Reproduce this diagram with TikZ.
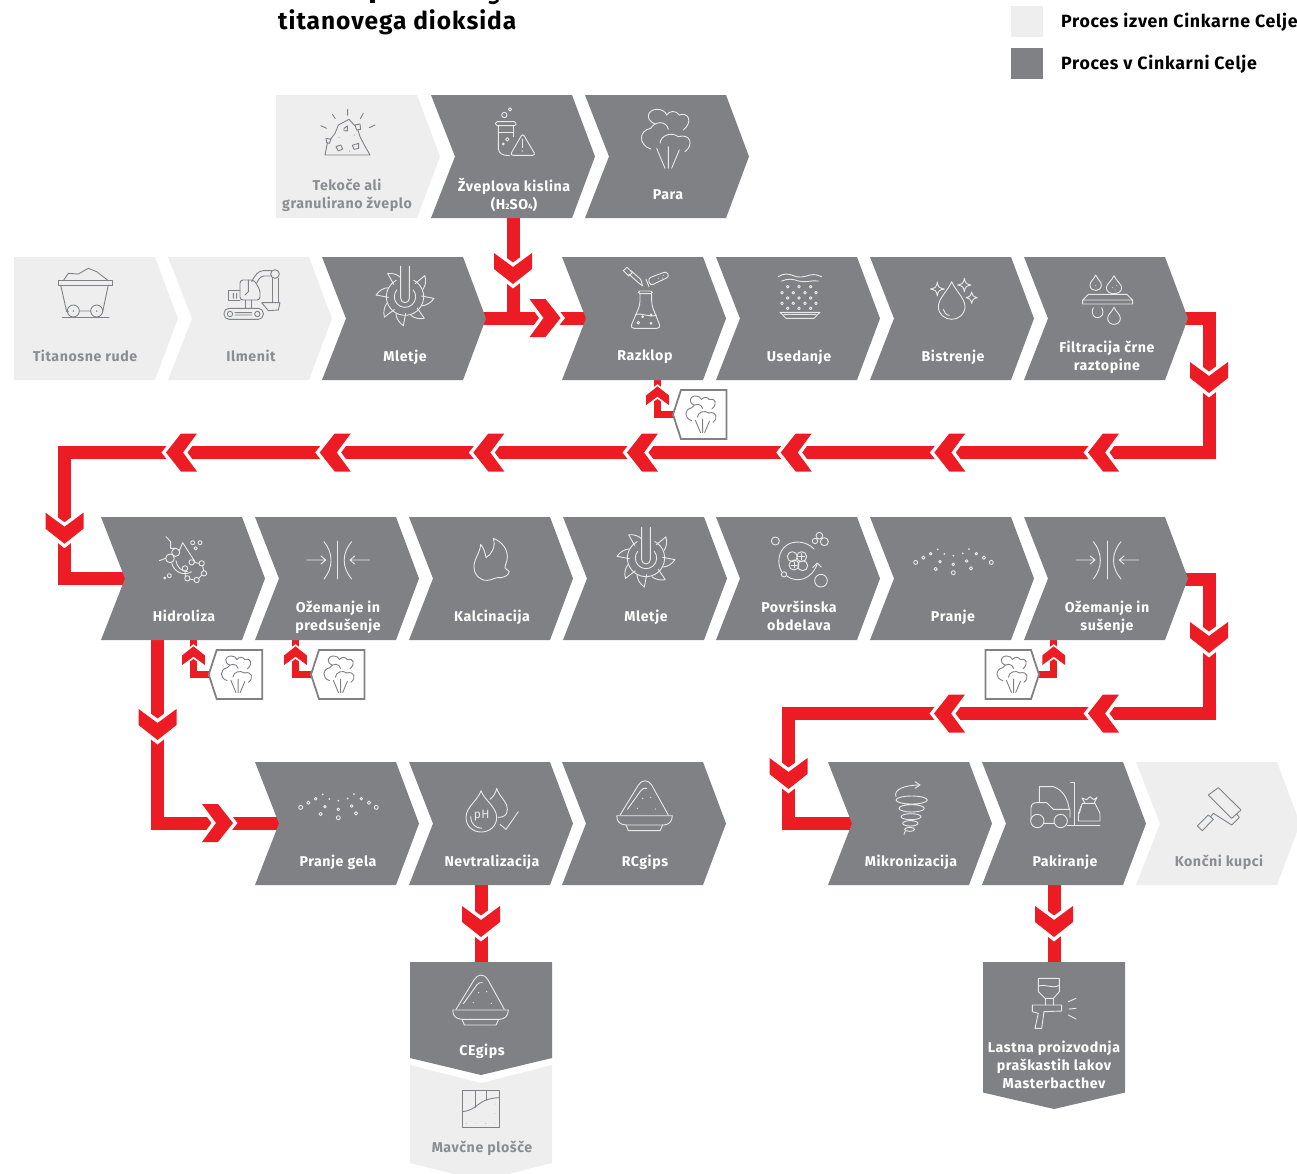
\documentclass[tikz,border=0pt]{standalone}
\usepackage{fontspec}
\setmainfont{Fira Sans}[LetterSpace=4]
\definecolor{gdark}{HTML}{808184}
\definecolor{glight}{HTML}{EEEEEF}
\definecolor{gtext}{HTML}{8C8D90}
\definecolor{gicon}{HTML}{808184}
\definecolor{wicon}{HTML}{E9E9EA}
\definecolor{rflow}{HTML}{ED1C24}
\newcommand\st{\rule[-3pt]{0pt}{14pt}}
\tikzset{
  cdark/.style={fill=gdark},
  clight/.style={fill=glight},
  cdarklabel/.style={text=white,font=\fontsize{14.2}{18}\selectfont\bfseries,align=center,inner sep=0pt},
  clightlabel/.style={text=gtext,font=\fontsize{14.2}{18}\selectfont\bfseries,align=center,inner sep=0pt},
  legendlabel/.style={text=black,font=\fontsize{17.75}{20}\selectfont\bfseries,anchor=west,inner sep=0pt},
  titlelabel/.style={text=black,font=\fontsize{24.5}{30}\selectfont\bfseries,anchor=west,inner sep=0pt},
  flow/.style={draw=rflow,line width=13pt,miter limit=10},
  flowsmall/.style={draw=rflow,line width=7pt,miter limit=10},
  zoomframe/.style n args={2}{shift={(#1,#2)},scale=.33333},
  iconw/.style={color=wicon,line width=.9pt,line join=round,line cap=round},
  icong/.style={color=gicon,line width=.9pt,line join=round,line cap=round},
  boxline/.style={draw=gicon,line width=1.8pt,fill=white},
  % chevron arrowheads pointing right from their base point
  chevarrow/.pic={
    \filldraw[draw=white,line width=7pt,fill=rflow,miter limit=10] (0,-19)--(16,-19)--(31,0)--(16,19)--(0,19)--(14,0)--cycle;
    \fill[rflow] (0,-19)--(16,-19)--(31,0)--(16,19)--(0,19)--(14,0)--cycle;
  },
  chevarrowsmall/.pic={
    \filldraw[draw=white,line width=3.5pt,fill=rflow,miter limit=10] (0,-19)--(16,-19)--(31,0)--(16,19)--(0,19)--(14,0)--cycle;
    \fill[rflow] (0,-19)--(16,-19)--(31,0)--(16,19)--(0,19)--(14,0)--cycle;
  },
  iconsteam/.pic={
    \begin{scope}[shift={(-1185,-415)}]
    \draw (1155,372) .. controls (1125,360) and (1130,328) .. (1162,328) .. controls (1175,328) and (1187,335) .. (1190,345);
    \draw (1190,345) .. controls (1198,332) and (1218,330) .. (1228,345);
    \draw (1228,345) .. controls (1255,335) and (1270,365) .. (1240,390);
    \draw (1195,388) .. controls (1190,362) and (1155,362) .. (1142,385);
    \draw (1142,385) .. controls (1105,392) and (1105,435) .. (1142,447);
    \draw (1170,430) .. controls (1172,405) and (1205,395) .. (1225,410);
    \draw (1225,410) .. controls (1262,400) and (1272,435) .. (1245,455);
    \draw (1160,445)--(1185,505) (1195,440)--(1195,505) (1228,450)--(1205,505);
    \end{scope}
  },
  iconmill/.pic={
    \draw (-13,-92)--(-13,5) arc (180:0:13) --(13,-92);
    \draw ([shift={(-40:32)}]0,0) arc (-40:220:32);
    \draw ([shift={(-62:56)}]0,0) arc (-62:242:56);
    \foreach \a in {0,50,130,180,228,270,315}{
      \draw[rotate=\a] (50,-2)--(87,5) .. controls (78,18) and (65,26) .. (52,27);
    }
  },
  iconwash/.pic={
    \begin{scope}[shift={(-175,-140)}]
    \draw (62,142) circle (6) (85,128) circle (5) (107,116) circle (4) (244,116) circle (4) (267,128) circle (5) (289,142) circle (6)
      (135,140) circle (4) (175,148) circle (4) (215,138) circle (4) (122,162) circle (5) (175,173) circle (6) (228,160) circle (5);
    \fill (128,103) circle (3) (148,117) circle (3) (175,122) circle (3) (203,115) circle (3) (222,102) circle (3);
    \end{scope}
  },
  iconpress/.pic={
    \begin{scope}[shift={(-1013,-390)}]
    \draw (1013,333)--(1013,447);
    \draw (972,335) .. controls (1000,370) and (1000,412) .. (972,447);
    \draw (1055,335) .. controls (1025,370) and (1025,412) .. (1055,447);
    \draw (920,390)--(975,390) (963,378)--(977,390)--(963,402);
    \draw (1108,390)--(1052,390) (1064,378)--(1050,390)--(1064,402);
    \end{scope}
  },
  icongypsum/.pic={
    \begin{scope}[shift={(-1094,-140)}]
    \draw (1020,165)--(1075,75) .. controls (1085,58) and (1105,58) .. (1115,75)--(1165,165);
    \draw (1042,148)--(1082,92) .. controls (1087,85) and (1093,83) .. (1100,85);
    \draw (1010,167)--(1177,167) .. controls (1177,185) and (1165,195) .. (1150,195)--(1040,195) .. controls (1020,195) and (1010,185) .. (1010,167);
    \draw (1038,195)--(1045,212)--(1140,212)--(1148,195);
    \fill (1088,115) circle (2) (1112,112) circle (2) (1072,145) circle (2) (1126,147) circle (2);
    \end{scope}
  },
}
\newcommand\chev[5]{\begin{scope}[shift={(#2,#3)}]
  \fill[#4] (0,0)--(141,0)--(164,61.5)--(141,123)--(0,123)--(24,61.5)--cycle;
  \node[#4label] (#1) at (83,100) {#5};
\end{scope}}
\newcommand\chevflat[5]{\begin{scope}[shift={(#2,#3)}]
  \fill[#4] (0,0)--(141,0)--(164,61.5)--(141,123)--(0,123)--cycle;
  \node[#4label] (#1) at (71,100) {#5};
\end{scope}}
\newcommand\stbox[3]{% tip x, tip y, direction (1 = tip left, -1 = tip right)
  \begin{scope}[shift={(#1,#2)},xscale=#3]
  \filldraw[boxline,miter limit=10] (0,0)--(8,-24.5)--(53.5,-24.5)--(53.5,24.5)--(8,24.5)--cycle;
  \end{scope}
}
\begin{document}
\begin{tikzpicture}[x=1pt,y=-1pt]
\useasboundingbox (0,0) rectangle (1297,1173);
\clip (0,0) rectangle (1297,1173);

% title
\fill[black] (370,0) rectangle (375,3);
\draw[black,line width=2.6pt] (489,2) .. controls (493,3.5) and (496,3) .. (498,0);
\node[titlelabel] (title) at (278,22.5) {titanovega dioksida};

% legend
\fill[glight] (1011,5.5) rectangle (1042.5,36.8);
\fill[gdark] (1011,48) rectangle (1042.5,79);
\node[legendlabel] (legA) at (1061,22.5) {Proces izven Cinkarne Celje};
\node[legendlabel] (legB) at (1061,64.5) {Proces v Cinkarni Celje};

% connector end points
\coordinate (zvB) at (513,215);
\coordinate (zvJ) at (513,318);
\coordinate (mlO) at (478,318);
\coordinate (raI) at (590,318);
\coordinate (fiO) at (1180,318.5);
\coordinate (c1) at (1209,318.5);
\coordinate (c2) at (1209,452.5);
\coordinate (c3) at (64.5,452.5);
\coordinate (c4) at (64.5,578.5);
\coordinate (hiI) at (130,578.5);
\coordinate (hiB) at (157.5,636);
\coordinate (c5) at (157.5,823);
\coordinate (prI) at (283,823);
\coordinate (suO) at (1180,579.5);
\coordinate (c6) at (1209,579.5);
\coordinate (c7) at (1209,713.5);
\coordinate (c8) at (788.5,713.5);
\coordinate (c9) at (788.5,823.5);
\coordinate (miI) at (856,823.5);
\coordinate (neB) at (481,881);
\coordinate (ceT) at (481,966);
\coordinate (paB) at (1054,881);
\coordinate (laT) at (1054,966);
\coordinate (sbA) at (212,674.5);
\coordinate (sbB) at (314,674.5);
\coordinate (sbC) at (676,414.5);
\coordinate (sbD) at (1036,674.5);
\coordinate (hiS) at (193.5,636);
\coordinate (hiT) at (193.5,674.5);
\coordinate (ozS) at (295.5,636);
\coordinate (ozT) at (295.5,674.5);
\coordinate (raS) at (657.5,376);
\coordinate (raT) at (657.5,414.5);
\coordinate (suS) at (1053.7,636);
\coordinate (suT) at (1053.7,674.5);

% flows (under the shapes)
\draw[flow] (zvB)--(zvJ);
\draw[flow] (mlO)--(raI);
\draw[flow] (fiO)--(c1)--(c2)--(c3)--(c4)--(hiI);
\draw[flow] (hiB)--(c5)--(prI);
\draw[flow] (suO)--(c6)--(c7)--(c8)--(c9)--(miI);
\draw[flow] (neB)--(ceT);
\draw[flow] (paB)--(laT);
\draw[flowsmall] (sbA)--(hiT)--(hiS);
\draw[flowsmall] (sbB)--(ozT)--(ozS);
\draw[flowsmall] (sbC)--(raT)--(raS);
\draw[flowsmall] (sbD)--(suT)--(suS);

% arrowheads
\pic[rotate=-90] at (513,253) {chevarrow};
\pic at (529.5,318) {chevarrow};
\pic[rotate=-90] at (1209,362) {chevarrow};
\foreach \x in {1119,965.3,811.7,658,504.3,350.7,197}{\pic[rotate=180] at (\x,452.5) {chevarrow};}
\pic[rotate=-90] at (64.5,512.7) {chevarrow};
\pic[rotate=-90] at (157.5,709) {chevarrow};
\pic at (202,823) {chevarrow};
\pic[rotate=-90] at (1209,622) {chevarrow};
\pic[rotate=180] at (1119,713.5) {chevarrow};
\pic[rotate=180] at (965,713.5) {chevarrow};
\pic[rotate=-90] at (788.5,758) {chevarrow};
\pic[rotate=-90] at (481,906) {chevarrow};
\pic[rotate=-90] at (1054,906) {chevarrow};
\foreach \x/\y in {193.5/665,295.5/665,657.5/405,1053.7/665}{\pic[rotate=90,scale=.6] at (\x,\y) {chevarrowsmall};}

% shapes row 1
\chevflat{tekoce}{276}{95}{clight}{\st Tekoče ali\\\st granulirano žveplo}
\chev{zveplova}{431}{95}{cdark}{\st Žveplova kislina\\\st (H{\fontsize{8}{8}\selectfont 2}SO{\fontsize{8}{8}\selectfont 4})}
\chev{para}{585}{95}{cdark}{\st Para}
% row 2
\chevflat{rude}{14}{257}{clight}{\st Titanosne rude}
\chev{ilmenit}{168}{257}{clight}{\st Ilmenit}
\chev{mletjeA}{322}{257}{cdark}{\st Mletje}
\chev{razklop}{562}{257}{cdark}{\st Razklop}
\chev{usedanje}{716}{257}{cdark}{\st Usedanje}
\chev{bistrenje}{870}{257}{cdark}{\st Bistrenje}
\chev{filtracija}{1024}{257}{cdark}{\st Filtracija črne\\\st raztopine}
% row 3
\chev{hidroliza}{101}{517}{cdark}{\st Hidroliza}
\chev{ozemanjeA}{255}{517}{cdark}{\st Ožemanje in\\\st predsušenje}
\chev{kalcinacija}{409}{517}{cdark}{\st Kalcinacija}
\chev{mletjeB}{563}{517}{cdark}{\st Mletje}
\chev{povrsinska}{716}{517}{cdark}{\st Površinska\\\st obdelava}
\chev{pranje}{870}{517}{cdark}{\st Pranje}
\chev{ozemanjeB}{1024}{517}{cdark}{\st Ožemanje in\\\st sušenje}
% row 4
\chev{pranjegela}{255}{762}{cdark}{\st Pranje gela}
\chev{nevtral}{409}{762}{cdark}{\st Nevtralizacija}
\chev{rcgips}{562}{762}{cdark}{\st RCgips}
\chev{mikro}{828}{762}{cdark}{\st Mikronizacija}
\chev{pakiranje}{982}{762}{cdark}{\st Pakiranje}
\chev{koncni}{1136}{762}{clight}{\st Končni kupci}
% bottom pentagons
\fill[glight] (410,1065)--(481,1083)--(552,1065)--(552,1163)--(481,1181)--(410,1163)--cycle;
\node[clightlabel] (mavcne) at (482,1148) {\st Mavčne plošče};
\fill[gdark] (410,962)--(552,962)--(552,1058)--(481,1075)--(410,1058)--cycle;
\node[cdarklabel] (cegips) at (482,1051) {\st CEgips};
\fill[gdark] (983,962)--(1125,962)--(1125,1092.5)--(1054,1109)--(983,1092.5)--cycle;
\node[cdarklabel] (lastna) at (1054,1066) {\st Lastna proizvodnja\\\st praškastih lakov\\\st Masterbacthev};

% steam boxes
\stbox{208.7}{674.5}{1}
\stbox{311}{674.5}{1}
\stbox{673}{414.5}{1}
\stbox{1039}{674.5}{-1}
\pic[icong,scale=.207] at (236,674) {iconsteam};
\pic[icong,scale=.207] at (338.5,674) {iconsteam};
\pic[icong,scale=.207] at (700.5,414) {iconsteam};
\pic[icong,scale=.207] at (1011.5,674) {iconsteam};

% ---- icons ----
% rock pile
\begin{scope}[zoomframe={270}{0},icong]
\draw (165,465)--(300,465)--(283,435)--(270,410)--(262,385)--(237,358)--(205,375)--(195,400)--(172,430)--cycle;
\draw[fill=glight] (222,385)--(232,378)--(232,393)--(222,392)--cycle (255,375)--(270,372)--(272,388)--(260,390)--cycle (168,415)--(183,418)--(178,430)--(170,428)--cycle (198,440)--(212,435)--(218,447)--(205,453)--cycle (247,436)--(266,430)--(266,445)--(252,448)--cycle;
\draw (233,328)--(233,346) (187,343)--(196,356) (280,340)--(271,356) (152,377)--(170,385) (315,375)--(298,383);
\fill (207,412) circle (1.5) (253,405) circle (1.5) (238,453) circle (1.5);
\end{scope}
% test tube and warning sign
\begin{scope}[zoomframe={270}{0},iconw]
\draw[rounded corners=1.5pt] (677,365) rectangle (738,377);
\draw (685,377)--(685,445) .. controls (685,460) and (698,467) .. (718,467);
\draw (730,377)--(730,410);
\draw (685,398)--(728,398);
\draw[rounded corners=3pt] (758,400)--(797,466)--(720,466)--cycle;
\draw (757,417)--(757,443);
\fill (757,453) circle (2);
\draw (703,345) circle (8) (720,328) circle (5) (712,418) circle (5) (700,432) circle (3);
\end{scope}
\pic[iconw,scale=.333] at (665,138.3) {iconsteam};
% mine cart
\begin{scope}[zoomframe={0}{250},icong]
\draw (175,92) rectangle (338,105);
\draw (182,105)--(200,185)--(205,185) (325,105)--(308,185);
\draw (220,183) circle (18) (290,183) circle (18) (238,183)--(272,183);
\fill (220,183) circle (2.5) (290,183) circle (2.5);
\draw (187,202)--(327,202);
\draw (190,92)--(205,70)--(235,72)--(265,55)--(290,65)--(325,92);
\end{scope}
% excavator
\begin{scope}[zoomframe={0}{250},icong]
\draw[rounded corners=5pt] (672,175) rectangle (790,208);
\draw (690,192) circle (8) (772,192) circle (8) (705,188)--(755,188) (705,195)--(755,195);
\draw[rounded corners=3pt] (720,150)--(720,90)--(762,90)--(780,120)--(780,150)--cycle;
\draw (720,120)--(685,120)--(685,150)--(720,150);
\draw (700,130)--(700,145) (710,130)--(710,145) (745,90)--(745,125)--(735,135);
\draw (735,150)--(735,175) (755,150)--(755,175);
\draw (755,95) .. controls (765,75) and (775,62) .. (790,62)--(815,62);
\draw (770,100) .. controls (775,88) and (782,78) .. (792,78)--(812,78);
\draw (825,72) circle (13);
\draw (818,85)--(818,158) (835,85)--(835,158);
\draw (785,158)--(840,158)--(835,180)--(805,182)--cycle;
\end{scope}
\pic[iconw,scale=.333] at (405,296.7) {iconmill};
\pic[iconw,scale=.333] at (646,558) {iconmill};
% flask, dropper, vial
\begin{scope}[zoomframe={270}{0},iconw]
\draw[rounded corners=1.5pt] (1105,873) rectangle (1147,881);
\draw[rounded corners=4pt] (1110,881)--(1110,915)--(1080,985)--(1173,985)--(1145,915)--(1145,881);
\draw (1095,945) .. controls (1115,935) and (1135,955) .. (1160,945);
\draw (1105,968) circle (4) (1118,950) circle (3) (1143,945) circle (3) (1143,970) circle (3);
\draw (1060,812)--(1071,802)--(1087,818)--(1076,828)--cycle;
\draw (1076,822)--(1105,848)--(1118,858)--(1112,838)--(1083,812);
\draw[rounded corners=3pt] (1134,835)--(1190,814)--(1198,830)--(1141,857)--cycle;
\draw (1128,838)--(1137,860);
\fill (1165,835) circle (1.5) (1180,826) circle (1.5) (1178,834) circle (1.5);
\end{scope}
% sediment
\begin{scope}[zoomframe={710}{255},iconw]
\draw (205,65) .. controls (220,55) and (235,55) .. (250,62) .. controls (265,70) and (285,65) .. (300,60) .. controls (315,57) and (325,60) .. (335,65);
\draw (215,78) .. controls (235,70) and (250,72) .. (265,78) .. controls (285,84) and (305,75) .. (325,78);
\foreach \x in {233,267,302}{\draw (\x,95) circle (4) (\x,129) circle (4) (\x,160) circle (4);}
\foreach \x in {216,250,285,318}{\draw (\x,113) circle (4) (\x,145) circle (4);}
\draw (210,172)--(330,172)--(312,190)--(228,190)--cycle (222,178)--(318,178);
\end{scope}
% drop and sparkles
\begin{scope}[zoomframe={710}{255},iconw]
\draw (725,80) .. controls (715,105) and (685,130) .. (685,155) .. controls (685,178) and (705,193) .. (725,193) .. controls (745,193) and (765,178) .. (765,155) .. controls (765,130) and (735,105) .. (725,80);
\draw (700,163) .. controls (702,172) and (708,180) .. (718,181);
\foreach \x/\y/\r in {682/102/21,763/90/20,785/128/17}{
  \draw (\x-\r,\y) .. controls (\x-5,\y-3) and (\x-3,\y-5) .. (\x,\y-\r) .. controls (\x+3,\y-5) and (\x+5,\y-3) .. (\x+\r,\y) .. controls (\x+5,\y+3) and (\x+3,\y+5) .. (\x,\y+\r) .. controls (\x-3,\y+5) and (\x-5,\y+3) .. (\x-\r,\y);
}
\end{scope}
% filtration
\begin{scope}[zoomframe={710}{255},iconw]
\draw (1157,60) .. controls (1150,75) and (1140,80) .. (1140,90) .. controls (1140,112) and (1174,112) .. (1174,90) .. controls (1174,80) and (1164,75) .. (1157,60);
\draw (1212,62) .. controls (1205,78) and (1189,88) .. (1189,98) .. controls (1189,122) and (1235,122) .. (1235,98) .. controls (1235,88) and (1219,78) .. (1212,62);
\draw (1118,135)--(1135,118)--(1250,118)--(1268,135)--(1268,147)--(1118,147)--cycle (1118,135)--(1268,135);
\draw (1150,158) .. controls (1140,178) and (1155,190) .. (1163,188) .. controls (1175,188) and (1185,175) .. (1175,158);
\draw (1212,157) .. controls (1205,172) and (1193,178) .. (1193,190) .. controls (1193,214) and (1231,214) .. (1231,190) .. controls (1231,178) and (1219,172) .. (1212,157);
\fill (1157,92) circle (1.5) (1208,97) circle (1.5) (1220,92) circle (1.5) (1215,105) circle (1.5);
\end{scope}
% hydrolysis
\begin{scope}[zoomframe={0}{430},iconw]
\draw (510,385) circle (13) (527,367) circle (12) (575,397) circle (8) (555,415) circle (8) (605,400) circle (8) (612,430) circle (8) (590,450) circle (8) (562,445) circle (8);
\draw (578,338) circle (6) (600,338) circle (6) (587,355) circle (5) (508,437) circle (6) (494,444) circle (3);
\draw (498,320)--(512,335)--(512,355)--(527,355);
\draw (497,385)--(478,392);
\draw (538,362)--(548,338)--(585,395);
\draw (515,398) .. controls (520,425) and (550,440) .. (575,425);
\draw (528,392) .. controls (530,410) and (545,425) .. (562,425);
\draw (583,397)--(597,400) (608,408)--(611,422) (605,436)--(596,445) (582,450)--(570,447) (556,438)--(555,423);
\end{scope}
\pic[iconw,scale=.333] at (337.7,560) {iconpress};
\pic[iconw,scale=.333] at (1107,560) {iconpress};
% flame
\begin{scope}[zoomframe={410}{515},iconw]
\draw (250,70) .. controls (275,80) and (292,100) .. (292,125) .. controls (292,140) and (285,150) .. (285,158) .. controls (290,165) and (296,167) .. (298,170) .. controls (295,182) and (280,190) .. (262,188) .. controls (252,188) and (248,195) .. (232,196) .. controls (210,197) and (192,180) .. (192,155) .. controls (192,130) and (210,115) .. (212,88) .. controls (222,100) and (226,115) .. (228,128) .. controls (245,118) and (258,95) .. (250,70);
\end{scope}
% surface treatment
\begin{scope}[zoomframe={410}{515},iconw]
\draw (1096,78) circle (12) (1215,78) circle (8) (1228,62) circle (10) (1243,80) circle (12) (1233,197) circle (19) (1122,178) circle (8);
\draw (1147,125) circle (15) (1175,125) circle (15) (1152,150) circle (15) (1178,152) circle (15);
\draw (1175,116)--(1175,134) (1166,125)--(1184,125) (1152,141)--(1152,159) (1143,150)--(1161,150);
\draw (1212,102) .. controls (1190,78) and (1150,75) .. (1128,92) .. controls (1105,110) and (1100,145) .. (1115,170);
\draw (1130,183) .. controls (1160,205) and (1205,195) .. (1222,146);
\draw (1208,158)--(1222,144)--(1234,156);
\end{scope}
\pic[iconw,scale=.333] at (338.3,806.7) {iconwash};
\pic[iconw,scale=.333] at (953.3,561.7) {iconwash};
% pH drops and check
\begin{scope}[zoomframe={280}{760},iconw]
\draw (603,92) .. controls (595,120) and (558,140) .. (558,172) .. controls (558,200) and (580,216) .. (603,216) .. controls (630,216) and (650,198) .. (650,172) .. controls (650,140) and (612,120) .. (603,92);
\draw (630,118) .. controls (640,110) and (648,98) .. (650,85) .. controls (658,110) and (682,125) .. (682,148) .. controls (682,165) and (672,172) .. (655,172);
\draw (572,170) .. controls (572,190) and (585,204) .. (605,205);
\draw (660,193)--(678,208)--(715,155);
\node[text=wicon,font=\fontsize{12}{12}\selectfont,inner sep=0pt] (ph) at (605,166) {pH};
\end{scope}
\pic[iconw,scale=.333] at (644.7,806.7) {icongypsum};
\pic[iconw,scale=.333] at (480.7,1001) {icongypsum};
% spiral
\begin{scope}[zoomframe={860}{770},iconw]
\draw (180,45) .. controls (130,45) and (100,60) .. (108,80);
\draw (165,35)--(180,45)--(165,55);
\draw (155,90) ellipse (47 and 12) (155,115) ellipse (38 and 11) (153,140) ellipse (30 and 9) (151,160) ellipse (23 and 8) (149,178) ellipse (15 and 6);
\draw (136,182)--(132,193);
\end{scope}
% forklift and sack
\begin{scope}[zoomframe={950}{560},iconw]
\draw (262,783) circle (20) (332,783) circle (20) (282,790)--(312,790);
\draw (243,778)--(243,745) .. controls (243,733) and (250,728) .. (260,728)--(290,728)--(310,748)--(360,748)--(360,772);
\draw (268,728)--(268,680)--(310,680) .. controls (340,690) and (352,715) .. (358,748);
\draw (362,668)--(372,668)--(372,795)--(352,795);
\draw (372,795)--(450,795);
\draw (397,730)--(385,760)--(385,783)--(450,783)--(450,760)--(435,730)--cycle;
\draw (405,730)--(396,714)--(410,719)--(420,710)--(431,719)--(441,712)--(432,730);
\draw (395,735)--(388,760);
\end{scope}
% paint roller
\begin{scope}[zoomframe={950}{560},icong]
\draw (775,705)--(805,683)--(873,750)--(845,775)--cycle;
\draw (742,798)--(775,765)--(790,778)--(757,812)--cycle;
\draw (782,770)--(790,760)--(845,795)--(868,772)--(860,762);
\end{scope}
% plasterboard
\begin{scope}[zoomframe={400}{880},icong]
\draw (187,632) rectangle (297,742);
\draw (187,695) .. controls (225,692) and (235,665) .. (265,658) .. controls (280,654) and (290,653) .. (297,653);
\draw (225,632)--(225,682) (260,632)--(260,660);
\fill (200,730) circle (1) (228,730) circle (1) (257,730) circle (1) (285,730) circle (1) (285,700) circle (1) (285,672) circle (1);
\end{scope}
% spray gun
\begin{scope}[zoomframe={970}{950},iconw]
\draw (205,85)--(268,85)--(268,125)--(250,145)--(225,145)--(205,125)--cycle;
\draw (205,108) .. controls (225,100) and (245,118) .. (268,106);
\draw (225,145)--(225,165) (250,145)--(250,165);
\draw (187,165)--(275,165)--(275,183)--(222,185)--(215,235)--(195,235)--(205,190)--(187,185)--cycle;
\draw (295,155)--(318,145) (297,177)--(318,175) (295,195)--(318,207);
\end{scope}
\end{tikzpicture}
\end{document}
